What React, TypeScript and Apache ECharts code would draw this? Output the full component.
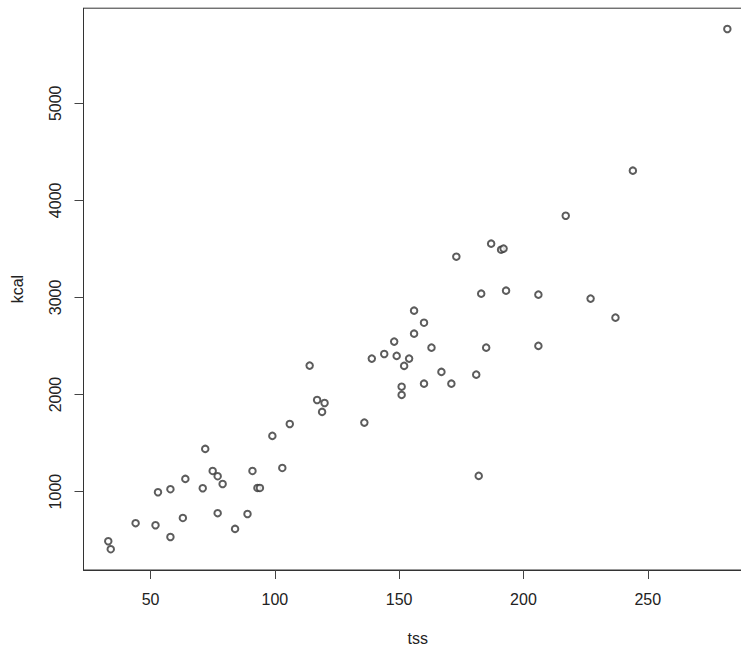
import * as echarts from 'echarts';
import { useEffect, useRef } from 'react';

// tss (x) and kcal (y)
const tss = [
  33, 34, 44, 52, 53, 58, 58, 63, 64, 71, 72, 75, 77, 77, 79, 84, 89, 91, 93, 94,
  103, 99, 106, 114, 117, 120, 119, 136, 139, 144, 148, 149, 152, 154, 151, 151,
  156, 160, 156, 163, 167, 160, 171, 173, 183, 185, 181, 187, 191, 192, 193, 206,
  206, 217, 227, 237, 244, 182, 282,
];
const kcal = [
  489, 407, 675, 654, 994, 533, 1025, 729, 1131, 1035, 1440, 1213, 1159, 778, 1079,
  616, 770, 1213, 1038, 1038, 1244, 1574, 1697, 2298, 1944, 1913, 1821, 1711, 2370,
  2418, 2545, 2398, 2295, 2370, 2081, 1996, 2864, 2740, 2627, 2483, 2233, 2112, 2112,
  3420, 3039, 2483, 2205, 3554, 3492, 3503, 3070, 3029, 2501, 3842, 2988, 2792, 4306,
  1162, 5765,
];
const xTicks = [50, 100, 150, 200, 250];
const yTicks = [1000, 2000, 3000, 4000, 5000];

// R-style 4% range extension
const extend = (v: number[]) => {
  const lo = Math.min(...v);
  const hi = Math.max(...v);
  const pad = (hi - lo) * 0.04;
  return [lo - pad, hi + pad];
};

const FONT = '"Liberation Sans", Arial, sans-serif';

const App = () => {
  const chartRef = useRef(null);

  useEffect(() => {
    const chart = echarts.init(chartRef.current, null, { renderer: 'svg' });
    const [xMin, xMax] = extend(tss);
    const [yMin, yMax] = extend(kcal);

    const option = {
      animation: false,
      backgroundColor: '#fff',
      grid: {
        left: 83.5,
        top: 8.2,
        width: 668.6,
        height: 561.8,
        outerBoundsMode: 'none',
        containLabel: false,
        show: true,
        borderColor: '#333',
        borderWidth: 1,
        backgroundColor: 'transparent',
      },
      xAxis: {
        type: 'value',
        min: xMin,
        max: xMax,
        name: 'tss',
        nameLocation: 'middle',
        nameGap: 60,
        nameTextStyle: { fontSize: 16, color: '#222', fontFamily: FONT },
        axisLine: { show: true, lineStyle: { color: '#333', width: 1 } },
        axisTick: { show: true, length: 9, customValues: xTicks, lineStyle: { color: '#444' } },
        axisLabel: { customValues: xTicks, fontSize: 16, color: '#222', margin: 21, fontFamily: FONT },
        splitLine: { show: false },
      },
      yAxis: {
        type: 'value',
        min: yMin,
        max: yMax,
        name: 'kcal',
        nameLocation: 'middle',
        nameGap: 58,
        nameTextStyle: { fontSize: 16, color: '#222', fontFamily: FONT },
        axisLine: { show: true, lineStyle: { color: '#333', width: 1 } },
        axisTick: { show: true, length: 9, customValues: yTicks, lineStyle: { color: '#444' } },
        axisLabel: {
          customValues: yTicks,
          formatter: (v: number) => String(v),
          rotate: 90,
          fontSize: 16,
          color: '#222',
          margin: 20,
          fontFamily: FONT,
        },
        splitLine: { show: false },
      },
      series: [
        {
          type: 'scatter',
          data: tss.map((x, i) => [x, kcal[i]]),
          symbol: 'emptyCircle',
          symbolSize: 6.5,
          itemStyle: { color: '#333', borderColor: '#333', borderWidth: 0.8 },
        },
      ],
    };

    chart.setOption(option);
    return () => chart.dispose();
  }, []);

  return (
    <div
      ref={chartRef}
      style={{ position: 'absolute', left: 0, top: 0, width: '741px', height: '648px' }}
    />
  );
};

export default App;
